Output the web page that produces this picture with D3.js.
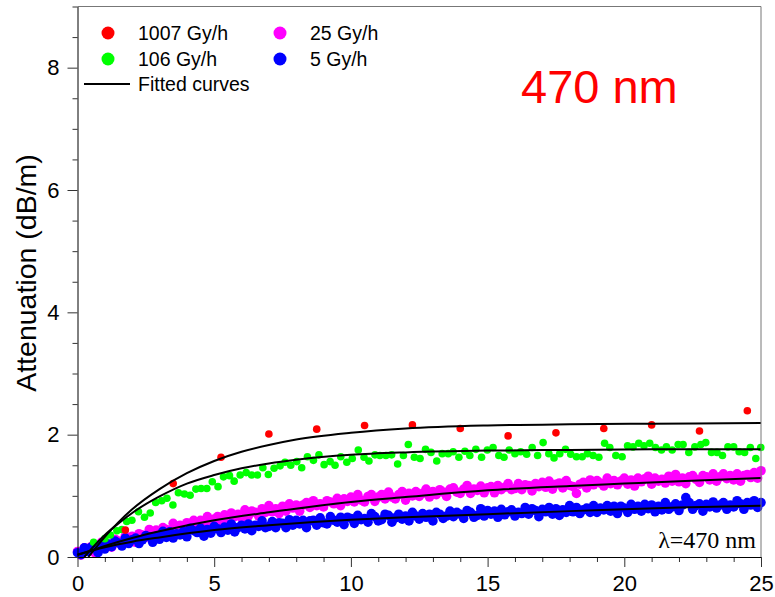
<!DOCTYPE html>
<html>
<head>
<meta charset="utf-8">
<script src="https://cdn.jsdelivr.net/npm/d3@7"></script>
<style>
  body { margin: 0; background: #fff; }
  text { font-family: "Liberation Sans", Arial, sans-serif; }
</style>
</head>
<body>
<svg id="chart" width="775" height="597"></svg>
<script>
// Dose-rate series
const seriesNames = ["1007 Gy/h", "106 Gy/h", "25 Gy/h", "5 Gy/h"];
const seriesColors = ["#ff0000", "#00ff00", "#ff00ff", "#0000ff"];

// 1007 Gy/h
const redX = [1.75, 3.5, 5.25, 7, 8.75, 10.5, 12.25, 14, 15.75, 17.5, 19.25, 21, 22.75, 24.5];
const redY = [0.44, 1.20, 1.63, 2.01, 2.09, 2.15, 2.16, 2.10, 1.98, 2.03, 2.10, 2.16, 2.06, 2.39];

// 106 Gy/h
const greenX = [0.59, 1.0, 1.2, 1.44, 1.62, 1.80, 1.99, 2.23, 2.45, 2.66, 2.86, 3.08, 3.27, 3.49, 3.69, 3.91, 4.12, 4.33, 4.52, 4.73, 4.93,
  5.14, 5.34, 5.56, 5.73, 5.95, 6.17, 6.37, 6.58, 6.78, 6.98, 7.19, 7.41, 7.59, 7.80, 8.02, 8.20, 8.41, 8.63, 8.83, 9.02, 9.24, 9.42, 9.63, 9.85,
  10.05, 10.27, 10.48, 10.66, 10.88, 11.06, 11.28, 11.49, 11.71, 11.92, 12.10, 12.32, 12.53, 12.73, 12.93, 13.14, 13.34, 13.56, 13.74, 13.95,
  14.17, 14.35, 14.57, 14.78, 14.99, 15.20, 15.41, 15.60, 15.79, 16.00, 16.21, 16.43, 16.63, 16.83, 17.03, 17.24, 17.43, 17.64, 17.85,
  18.04, 18.25, 18.46, 18.65, 18.86, 19.07, 19.28, 19.47, 19.69, 19.92, 20.12, 20.32, 20.53, 20.72, 20.93, 21.14, 21.36, 21.54, 21.75,
  21.97, 22.15, 22.36, 22.58, 22.80, 22.98, 23.19, 23.39, 23.59, 23.79, 24.00, 24.20, 24.40, 24.61, 24.81, 24.99];
const greenY = [0.24, 0.30, 0.36, 0.43, 0.45, 0.58, 0.60, 0.74, 0.65, 0.72, 0.89, 0.92, 0.96, 0.85, 1.05, 1.03, 1.01, 1.11, 1.12, 1.12, 1.23,
  1.15, 1.31, 1.33, 1.24, 1.34, 1.38, 1.34, 1.34, 1.46, 1.35, 1.45, 1.49, 1.55, 1.50, 1.56, 1.46, 1.64, 1.58, 1.67, 1.51, 1.56, 1.50, 1.64, 1.55,
  1.61, 1.75, 1.63, 1.57, 1.67, 1.66, 1.66, 1.67, 1.52, 1.66, 1.84, 1.63, 1.61, 1.76, 1.71, 1.57, 1.69, 1.69, 1.72, 1.63,
  1.73, 1.66, 1.76, 1.63, 1.75, 1.79, 1.66, 1.63, 1.75, 1.69, 1.72, 1.68, 1.79, 1.66, 1.87, 1.69, 1.62, 1.69, 1.76,
  1.68, 1.64, 1.64, 1.69, 1.66, 1.63, 1.86, 1.79, 1.66, 1.64, 1.82, 1.80, 1.86, 1.82, 1.86, 1.79, 1.75, 1.80, 1.75,
  1.84, 1.84, 1.71, 1.80, 1.84, 1.87, 1.71, 1.71, 1.66, 1.80, 1.80, 1.72, 1.71, 1.79, 1.61, 1.79];

// 25 Gy/h and 5 Gy/h: readings every 0.125 from 0 to 25
const denseStep = 0.125;
const magentaY = [
  0.09,0.03,0.15,0.10,0.17,0.07,0.18,0.24,0.16,0.21,
  0.16,0.29,0.26,0.23,0.34,0.28,0.34,0.24,0.38,0.36,
  0.32,0.45,0.37,0.44,0.36,0.48,0.45,0.43,0.55,0.44,
  0.52,0.44,0.56,0.52,0.60,0.50,0.60,0.56,0.66,0.54,
  0.62,0.66,0.55,0.69,0.62,0.72,0.66,0.70,0.64,0.77,
  0.67,0.75,0.73,0.67,0.79,0.73,0.84,0.74,0.79,0.71,
  0.83,0.75,0.87,0.80,0.85,0.75,0.85,0.89,0.81,0.92,
  0.84,0.87,0.82,0.92,0.90,0.87,0.96,0.84,0.95,0.91,
  0.98,0.90,1.02,0.93,0.90,0.99,1.02,0.91,0.98,1.02,
  0.95,1.06,0.98,0.95,1.02,1.07,0.93,1.04,1.00,1.07,
  0.99,1.04,1.11,0.98,1.07,1.02,1.10,1.06,0.99,1.11,
  1.13,1.06,1.04,1.11,1.17,1.04,1.11,1.09,1.16,1.05,
  1.13,1.15,1.05,1.17,1.10,1.14,1.20,1.10,1.12,1.20,
  1.10,1.18,1.17,1.08,1.20,1.15,1.22,1.14,1.24,1.11,
  1.19,1.21,1.13,1.25,1.17,1.15,1.04,1.19,1.22,1.13,
  1.26,1.18,1.25,1.21,1.16,1.29,1.20,1.25,1.18,1.24,
  1.29,1.19,1.26,1.16,1.29,1.23,1.28,1.32,1.19,1.29,
  1.24,1.27,1.21,1.32,1.24,1.35,1.23,1.29,1.20,1.31,
  1.33,1.27,1.22,1.33,1.31,1.26,1.36,1.24,1.31,1.36,
  1.28,1.33,1.26,1.36,1.24,1.33,1.35,1.30,1.38,1.29,
  1.41];
const blueY = [
  0.07,0.04,0.15,0.09,0.16,0.15,0.07,0.21,0.13,0.21,
  0.17,0.26,0.23,0.18,0.31,0.22,0.28,0.31,0.22,0.28,
  0.35,0.33,0.24,0.34,0.29,0.42,0.32,0.41,0.31,0.38,
  0.36,0.42,0.33,0.47,0.43,0.40,0.47,0.34,0.45,0.39,
  0.50,0.46,0.40,0.49,0.44,0.54,0.41,0.48,0.52,0.46,
  0.54,0.43,0.52,0.50,0.59,0.48,0.50,0.58,0.48,0.56,
  0.55,0.48,0.61,0.52,0.60,0.54,0.60,0.48,0.59,0.60,
  0.52,0.64,0.56,0.54,0.66,0.60,0.57,0.65,0.53,0.65,
  0.63,0.55,0.68,0.61,0.63,0.57,0.71,0.66,0.59,0.61,
  0.70,0.68,0.57,0.64,0.70,0.62,0.67,0.59,0.73,0.67,
  0.62,0.71,0.65,0.70,0.59,0.73,0.70,0.63,0.67,0.75,
  0.66,0.73,0.70,0.63,0.76,0.73,0.65,0.68,0.79,0.67,
  0.76,0.70,0.75,0.65,0.78,0.69,0.74,0.77,0.67,0.73,
  0.71,0.81,0.70,0.79,0.76,0.66,0.78,0.74,0.81,0.70,
  0.79,0.68,0.77,0.73,0.84,0.74,0.81,0.71,0.77,0.80,
  0.73,0.84,0.73,0.80,0.77,0.84,0.75,0.83,0.71,0.83,
  0.80,0.73,0.86,0.78,0.83,0.75,0.86,0.79,0.85,0.74,
  0.83,0.77,0.89,0.78,0.82,0.87,0.76,0.85,0.97,0.89,
  0.78,0.84,0.87,0.75,0.86,0.82,0.90,0.80,0.85,0.89,
  0.78,0.85,0.82,0.92,0.87,0.78,0.89,0.85,0.92,0.81,
  0.89];

// Fitted curves, sampled
const fitRedX = [0.4, 1, 1.5, 2, 3, 4, 5, 6, 7, 8, 10, 12, 15, 18, 21, 25];
const fitRedY = [0, 0.33, 0.57, 0.78, 1.11, 1.37, 1.57, 1.72, 1.83, 1.92, 2.03, 2.10, 2.15, 2.17, 2.18, 2.19];
const fitGreenX = [0.25, 0.5, 1, 1.5, 2, 3, 4, 5, 6, 7, 8, 10, 12, 15, 18, 21, 25];
const fitGreenY = [0, 0.13, 0.36, 0.55, 0.72, 0.99, 1.20, 1.34, 1.45, 1.53, 1.59, 1.67, 1.71, 1.74, 1.75, 1.76, 1.76];
const fitMagentaX = [0, 1, 2, 3, 5, 7, 10, 12, 15, 18, 20, 22, 25];
const fitMagentaY = [0.03, 0.18, 0.31, 0.42, 0.60, 0.73, 0.90, 0.98, 1.09, 1.16, 1.20, 1.24, 1.29];
const fitBlueX = [0, 1, 2, 3, 5, 7, 10, 12, 15, 18, 20, 22, 25];
const fitBlueY = [0.04, 0.16, 0.25, 0.32, 0.44, 0.52, 0.61, 0.65, 0.70, 0.75, 0.78, 0.81, 0.84];

// Axis ticks
const xMajor = [0, 5, 10, 15, 20, 25];
const xMinor = d3.range(0, 26, 1).filter(v => v % 5 !== 0);
const yMajor = [0, 2, 4, 6, 8];
const yMinor = d3.range(0.5, 9.01, 0.5).filter(v => v % 2 !== 0);

const svg = d3.select("#chart");
const x = d3.scaleLinear().domain([0, 25]).range([77.5, 761]);
const y = d3.scaleLinear().domain([0, 9]).range([557, 6.5]);

const zip = (xs, ys) => xs.map((v, i) => [v, ys[i]]);
const dense = ys => ys.map((v, i) => [i * denseStep, v]);

const pointSets = [
  { data: dense(magentaY), color: seriesColors[2], r: 4.8 },
  { data: dense(blueY), color: seriesColors[3], r: 4.8 },
  { data: zip(greenX, greenY), color: seriesColors[1], r: 3.8 },
  { data: zip(redX, redY), color: seriesColors[0], r: 3.8 }
];

pointSets.forEach(s => {
  svg.append("g").selectAll("circle").data(s.data).join("circle")
    .attr("cx", d => x(d[0])).attr("cy", d => y(d[1]))
    .attr("r", s.r).attr("fill", s.color);
});

const line = d3.line().x(d => x(d[0])).y(d => y(d[1])).curve(d3.curveMonotoneX);
[[fitRedX, fitRedY], [fitGreenX, fitGreenY], [fitMagentaX, fitMagentaY], [fitBlueX, fitBlueY]].forEach(([xs, ys]) => {
  svg.append("path").datum(zip(xs, ys)).attr("d", line)
    .attr("fill", "none").attr("stroke", "#000").attr("stroke-width", 2);
});

// Frame: top and right borders
svg.append("line").attr("x1", x(0)).attr("x2", x(25)).attr("y1", y(9)).attr("y2", y(9)).attr("stroke", "#777");
svg.append("line").attr("x1", x(25)).attr("x2", x(25)).attr("y1", y(9)).attr("y2", y(0)).attr("stroke", "#777");

// Axes
function styleAxis(g) {
  g.select(".domain").attr("stroke", "#000");
  g.selectAll(".tick line").attr("stroke", "#333");
  g.selectAll("text").attr("font-size", 22).attr("fill", "#000")
    .attr("font-family", "Liberation Sans, Arial, sans-serif");
}
svg.append("g").attr("transform", `translate(0,${y(0)})`)
  .call(d3.axisBottom(x).tickValues(xMinor).tickSize(5).tickFormat("").tickSizeOuter(0))
  .call(g => g.select(".domain").remove())
  .call(g => g.selectAll(".tick line").attr("stroke", "#333"));
svg.append("g").attr("transform", `translate(0,${y(0)})`)
  .call(d3.axisBottom(x).tickValues(xMajor).tickSize(10).tickPadding(8).tickSizeOuter(0).tickFormat(d3.format("d")))
  .call(styleAxis);
svg.append("g").attr("transform", `translate(${x(0)},0)`)
  .call(d3.axisLeft(y).tickValues(yMinor).tickSize(5).tickFormat("").tickSizeOuter(0))
  .call(g => g.select(".domain").remove())
  .call(g => g.selectAll(".tick line").attr("stroke", "#333"));
svg.append("g").attr("transform", `translate(${x(0)},0)`)
  .call(d3.axisLeft(y).tickValues(yMajor).tickSize(10).tickPadding(8).tickSizeOuter(0).tickFormat(d3.format("d")))
  .call(styleAxis);

// Axis title
svg.append("text").attr("transform", "translate(36,273) rotate(-90)")
  .attr("text-anchor", "middle").attr("font-size", 28.5).text("Attenuation (dB/m)");

// Legend
const legend = svg.append("g").attr("font-size", 19.5);
const legendItems = [
  { name: seriesNames[0], color: seriesColors[0], cx: 108, cy: 33 },
  { name: seriesNames[1], color: seriesColors[1], cx: 108, cy: 59 },
  { name: seriesNames[2], color: seriesColors[2], cx: 280, cy: 33 },
  { name: seriesNames[3], color: seriesColors[3], cx: 280, cy: 59 }
];
legendItems.forEach(d => {
  legend.append("circle").attr("cx", d.cx).attr("cy", d.cy).attr("r", 6.5).attr("fill", d.color);
  legend.append("text").attr("x", d.cx + 30).attr("y", d.cy + 6.5).text(d.name);
});
legend.append("line").attr("x1", 84).attr("x2", 130).attr("y1", 84).attr("y2", 84)
  .attr("stroke", "#000").attr("stroke-width", 2);
legend.append("text").attr("x", 138).attr("y", 91).text("Fitted curves");

// Annotations
svg.append("text").attr("x", 521).attr("y", 103).attr("font-size", 47).attr("fill", "#ff0000").text("470 nm");
svg.append("text").attr("x", 756).attr("y", 548).attr("text-anchor", "end")
  .attr("font-size", 24).style("font-family", "'Liberation Serif', 'Times New Roman', serif")
  .text("λ=470 nm");
</script>
</body>
</html>
